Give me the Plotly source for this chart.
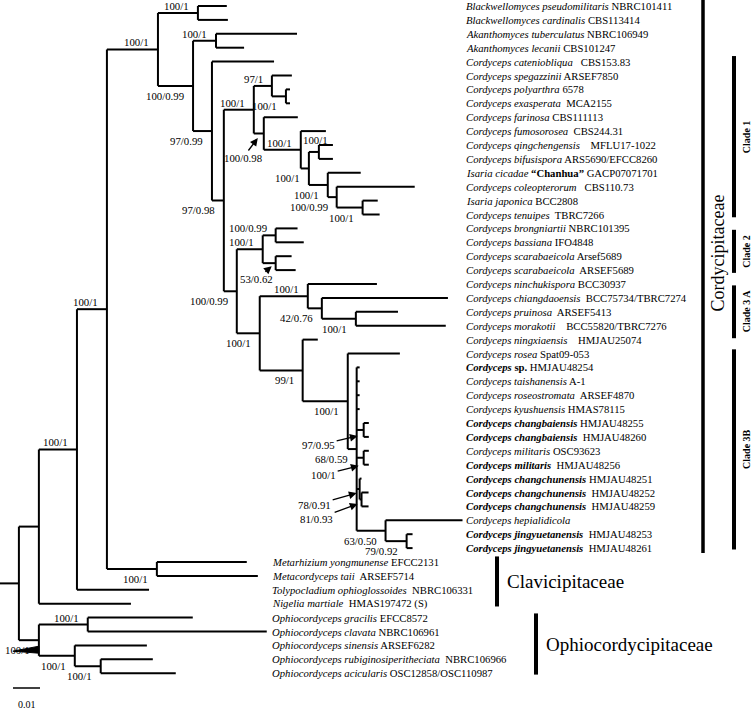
import plotly.graph_objects as go

# ---------------- layout constants ----------------
W, H = 756, 711
SCALE = 2700.0      # pixels per substitution unit (0.01 = 27 px)
ROW = 13.9          # pixels per tip row
TOP = 6.0           # pixel y of first tip
FONT = "Liberation Serif"

def px2x(p):
    return p / SCALE

def px2dy(p):
    return p / ROW

# ---------------- tips (top to bottom) ----------------
tip_species = [
    "Blackwellomyces pseudomilitaris", "Blackwellomyces cardinalis", "Akanthomyces tuberculatus",
    "Akanthomyces lecanii", "Cordyceps cateniobliqua", "Cordyceps spegazzinii", "Cordyceps polyarthra",
    "Cordyceps exasperata", "Cordyceps farinosa", "Cordyceps fumosorosea", "Cordyceps qingchengensis",
    "Cordyceps bifusispora", "Isaria cicadae", "Cordyceps coleopterorum", "Isaria japonica",
    "Cordyceps tenuipes", "Cordyceps brongniartii", "Cordyceps bassiana", "Cordyceps scarabaeicola",
    "Cordyceps scarabaeicola", "Cordyceps ninchukispora", "Cordyceps chiangdaoensis", "Cordyceps pruinosa",
    "Cordyceps morakotii", "Cordyceps ningxiaensis", "Cordyceps rosea", "Cordyceps sp.",
    "Cordyceps taishanensis", "Cordyceps roseostromata", "Cordyceps kyushuensis", "Cordyceps changbaiensis",
    "Cordyceps changbaiensis", "Cordyceps militaris", "Cordyceps militaris", "Cordyceps changchunensis",
    "Cordyceps changchunensis", "Cordyceps changchunensis", "Cordyceps hepialidicola",
    "Cordyceps jingyuetanensis", "Cordyceps jingyuetanensis", "Metarhizium yongmunense",
    "Metacordyceps taii", "Tolypocladium ophioglossoides", "Nigelia martiale", "Ophiocordyceps gracilis",
    "Ophiocordyceps clavata", "Ophiocordyceps sinensis", "Ophiocordyceps rubiginosiperitheciata",
    "Ophiocordyceps acicularis",
]
tip_strain = [
    "NBRC101411", "CBS113414", "NBRC106949", "CBS101247", "CBS153.83", "ARSEF7850", "6578", "MCA2155",
    "CBS111113", "CBS244.31", "MFLU17-1022", "ARS5690/EFCC8260", "GACP07071701", "CBS110.73", "BCC2808",
    "TBRC7266", "NBRC101395", "IFO4848", "Arsef5689", "ARSEF5689", "BCC30937", "BCC75734/TBRC7274",
    "ARSEF5413", "BCC55820/TBRC7276", "HMJAU25074", "Spat09-053", "HMJAU48254", "A-1", "ARSEF4870",
    "HMAS78115", "HMJAU48255", "HMJAU48260", "OSC93623", "HMJAU48256", "HMJAU48251", "HMJAU48252",
    "HMJAU48259", "", "HMJAU48253", "HMJAU48261", "EFCC2131", "ARSEF5714", "NBRC106331",
    "HMAS197472 (S)", "EFCC8572", "NBRC106961", "ARSEF6282", "NBRC106966", "OSC12858/OSC110987",
]
# number of spaces between name and strain, as typeset in the figure
tip_gap = [1, 1, 1, 1, 3, 1, 1, 2, 1, 2, 4, 1, 1, 3, 1, 2, 1, 1, 1, 2, 1, 2, 2, 4, 4, 1, 1, 1, 2, 1,
           1, 2, 1, 2, 1, 2, 2, 1, 2, 2, 1, 2, 2, 2, 1, 1, 1, 2, 1]
tip_note = {12: "\u201cChanhua\u201d"}
tip_bold = [26, 30, 31, 33, 34, 35, 36, 38, 39]
tip_parent = [
    "I", "I", "K", "K", "L", "O", "P", "P", "Q", "R", "T", "T", "U", "V", "W", "W", "Z", "Z", "AA", "AA",
    "AC", "AD", "AE", "AE", "AF", "AG", "AH", "AH", "AH", "AH", "CB", "CB", "MI", "MI", "CC", "CC2", "CC2",
    "AI", "AJ", "AJ", "AK", "AK", "C", "A", "E", "E", "F", "G", "G",
]
tip_length = [
    0.0107, 0.0111, 0.0300, 0.0104, 0.0230, 0.0074, 0.0015, 0.0015, 0.0126, 0.0093, 0.0052, 0.0052,
    0.0122, 0.0289, 0.0056, 0.0063, 0.0081, 0.0104, 0.0059, 0.0074, 0.0256, 0.0467, 0.0156, 0.0333,
    0.0056, 0.0193, 0.0011, 0.0011, 0.0011, 0.0011, 0.0019, 0.0019, 0.0019, 0.0019, 0.0007, 0.0026,
    0.0026, 0.0285, 0.0022, 0.0022, 0.0333, 0.0374, 0.0267, 0.0341, 0.0389, 0.0663, 0.0267, 0.0193,
    0.0278,
]
tip_label_col_px = [466] * 40 + [272] * 9

# ---------------- internal nodes ----------------
node_names = ["root", "A", "D", "C", "B", "H", "I", "J", "K", "L", "M", "N", "O", "P", "Q", "R", "S",
              "T", "U", "V", "W", "X", "Y", "Z", "AA", "AB", "AC", "AD", "AE", "AF", "AG", "AH", "CB",
              "MI", "CC", "CC2", "AI", "AJ", "AK", "E", "F", "G"]
node_parent = [None, "root", "root", "A", "C", "B", "H", "H", "J", "J", "L", "M", "N", "O", "N", "Q", "R",
               "S", "S", "U", "V", "M", "X", "Y", "Y", "X", "AB", "AC", "AD", "AB", "AF", "AG", "AH",
               "AH", "AH", "CC", "AH", "AI", "B", "D", "D", "F"]
node_length = [0.0070, 0.0074, 0.0074, 0.0141, 0.0111, 0.0189, 0.0148, 0.0130, 0.0085, 0.0070, 0.0044,
               0.0111, 0.0067, 0.0052, 0.0037, 0.0137, 0.0030, 0.0037, 0.0070, 0.0033, 0.0096, 0.0048,
               0.0096, 0.0048, 0.0048, 0.0085, 0.0178, 0.0052, 0.0126, 0.0159, 0.0167, 0.0033, 0.0026,
               0.0026, 0.0011, 0.0007, 0.0107, 0.0078, 0.0185, 0.0181, 0.0133, 0.0096]
node_support = ["", "", "100/1", "100/1", "100/1", "100/1", "100/1", "100/0.99", "100/1", "97/0.99",
                "97/0.98", "100/1", "97/1", "100/1", "100/0.98", "100/1", "100/1", "100/1", "100/1",
                "100/0.99", "100/1", "100/0.99", "100/1", "100/0.99", "53/0.62", "100/1", "100/1",
                "42/0.76", "100/1", "99/1", "100/1", "68/0.59", "97/0.95", "100/1", "78/0.91", "81/0.93",
                "63/0.50", "79/0.92", "100/1", "100/1", "100/1", "100/1"]
# placement: a = above branch, b = below branch, t = above node, r = arrow
node_label_pos = ["", "", "b", "a", "a", "a", "a", "b", "a", "b", "b", "a", "a", "b", "r", "a", "b", "t",
                  "b", "b", "b", "b", "a", "a", "r", "b", "a", "b", "b", "b", "b", "b", "r", "r", "r", "r",
                  "b", "b", "b", "a", "b", "b"]
# arrow geometry (pixels): tip offset from (parent x, node y), text offset from tip
arrow_tip = {"Q": (4, 4.5), "AA": (9, 3), "CB": (1, 6), "MI": (2, 8), "CC": (0, 4), "CC2": (-2, 4.5)}
arrow_text = {"Q": (-15, 20), "AA": (-15, 13), "CB": (-39, 9), "MI": (-35, 9), "CC": (-42, 12),
              "CC2": (-41, 15)}

# ---------------- clade bars (tip-index spans) ----------------
bar_names = ["Cordycipitaceae", "Clade 1", "Clade 2", "Clade 3 A", "Clade 3B", "Clavicipitaceae",
             "Ophiocordycipitaceae"]
bar_span = [(-0.45, 39.35), (3.6, 15.2), (16.1, 19.2), (20.1, 23.9), (24.7, 39.1), (39.6, 43.2),
            (43.7, 48.1)]
bar_x_px = [703, 734, 734, 734, 734, 497, 536]

# ---------------- compute tree geometry ----------------
xpos, ypos = {}, {}
for name, par, ln in zip(node_names, node_parent, node_length):
    xpos[name] = ln if par is None else xpos[par] + ln
children = {n: [] for n in node_names}
for i, (par, ln) in enumerate(zip(tip_parent, tip_length)):
    key = "tip%d" % i
    xpos[key] = xpos[par] + ln
    ypos[key] = float(i)
    children[par].append(key)
for name, par in zip(node_names, node_parent):
    if par is not None:
        children[par].append(name)
for name in reversed(node_names):
    ys = [ypos[c] for c in children[name]]
    ypos[name] = (min(ys) + max(ys)) / 2.0
parent_of = dict(zip(node_names, node_parent))
for i, p in enumerate(tip_parent):
    parent_of["tip%d" % i] = p

lx, ly = [], []
for key, par in parent_of.items():
    if par is None:
        lx += [0, xpos[key], None]
        ly += [ypos[key], ypos[key], None]
    else:
        lx += [xpos[par], xpos[key], None]
        ly += [ypos[key], ypos[key], None]
for name in node_names:
    ys = [ypos[c] for c in children[name]]
    lx += [xpos[name], xpos[name], None]
    ly += [min(ys), max(ys), None]

fig = go.Figure()
fig.add_trace(go.Scatter(x=lx, y=ly, mode="lines", line=dict(color="black", width=2),
                         hoverinfo="skip", showlegend=False))

# black wedge at the Ophiocordycipitaceae stem
dxn, dyn = xpos["D"], ypos["D"]
fig.add_trace(go.Scatter(
    x=[dxn, dxn, dxn - px2x(26), dxn],
    y=[dyn + px2dy(6), dyn + px2dy(13), dyn + px2dy(11), dyn + px2dy(6)],
    mode="lines", fill="toself", fillcolor="black", line=dict(color="black", width=1),
    hoverinfo="skip", showlegend=False))

ann = []

# tip labels
NB = "\u00a0"
for i, sp in enumerate(tip_species):
    words = sp.split()
    ital = " ".join(w for w in words if w != "sp.")
    txt = "<i>%s</i>" % ital + (" sp." if "sp." in words else "")
    if i in tip_bold:
        txt = "<b>%s</b>" % txt
    if i in tip_note:
        txt += " <b>%s</b>" % tip_note[i]
    if tip_strain[i]:
        txt += NB * (tip_gap[i] - 1) + " " + tip_strain[i]
    ann.append(dict(x=px2x(tip_label_col_px[i]), y=i, text=txt, xanchor="left", yanchor="middle",
                    showarrow=False, xshift=-2, font=dict(family=FONT, size=10.7, color="black")))

# support values
sfont = dict(family=FONT, size=10.8, color="black")
for name, sup, pos in zip(node_names, node_support, node_label_pos):
    if not sup:
        continue
    x, y = xpos[name], ypos[name]
    if pos == "a":
        ann.append(dict(x=x, y=y, text=sup, xanchor="right", yanchor="middle", showarrow=False,
                        xshift=-7, yshift=7, font=sfont))
    elif pos == "b":
        ann.append(dict(x=x, y=y, text=sup, xanchor="right", yanchor="middle", showarrow=False,
                        xshift=-7, yshift=-10, font=sfont))
    elif pos == "t":
        ann.append(dict(x=x, y=y, text=sup, xanchor="center", yanchor="middle", showarrow=False,
                        xshift=-3, yshift=12, font=sfont))
    else:
        px_ = xpos[parent_of[name]]
        tdx, tdy = arrow_tip[name]
        ldx, ldy = arrow_text[name]
        tx = px_ + px2x(tdx)
        ty = y + px2dy(tdy)
        ann.append(dict(x=tx, y=ty, ax=tx + px2x(ldx), ay=ty + px2dy(ldy), axref="x", ayref="y",
                        text=sup, showarrow=True, arrowhead=2, arrowsize=1.2, arrowwidth=1.3,
                        arrowcolor="black", standoff=0, font=sfont))

# clade bars and labels
shapes = []
for nm, (y0, y1), bx in zip(bar_names, bar_span, bar_x_px):
    shapes.append(dict(type="line", xref="x", yref="y", x0=px2x(bx), x1=px2x(bx), y0=y0, y1=y1,
                       line=dict(color="black", width=3.5 if nm in ("Cordycipitaceae",) else 4)))
    ymid = (y0 + y1) / 2
    if nm == "Cordycipitaceae":
        ann.append(dict(x=px2x(bx), y=17.8, text=nm, textangle=-90, showarrow=False, xanchor="left",
                        xshift=3, yanchor="middle", font=dict(family=FONT, size=18, color="black")))
    elif nm.startswith("Clade"):
        ann.append(dict(x=px2x(bx), y=ymid, text="<b>%s</b>" % nm, textangle=-90, showarrow=False,
                        xanchor="left", xshift=5, yanchor="middle",
                        font=dict(family=FONT, size=10, color="black")))
    else:
        ann.append(dict(x=px2x(bx), y=ymid, text=nm, showarrow=False, xanchor="left", xshift=8,
                        yanchor="middle", font=dict(family=FONT, size=19, color="black")))

# scale bar
scale_len = [0.01]
sb_x0 = px2x(13)
sb_y = px2dy(688 - TOP)
fig.add_trace(go.Scatter(x=[sb_x0, sb_x0 + scale_len[0]], y=[sb_y, sb_y], mode="lines",
                         line=dict(color="black", width=1.5), hoverinfo="skip", showlegend=False))
ann.append(dict(x=sb_x0 + scale_len[0] / 2, y=sb_y + px2dy(16), text="%.2f" % scale_len[0],
                showarrow=False, font=dict(family=FONT, size=10, color="black")))

fig.update_layout(
    width=W, height=H, margin=dict(l=0, r=0, t=0, b=0),
    paper_bgcolor="white", plot_bgcolor="white", showlegend=False,
    xaxis=dict(range=[0, px2x(W)], visible=False, fixedrange=True),
    yaxis=dict(range=[px2dy(H - TOP), px2dy(-TOP)], visible=False, fixedrange=True),
    annotations=ann, shapes=shapes,
)
fig.write_html("out.html", config={"displayModeBar": False},
               post_script="document.body.style.margin='0px';document.body.style.overflow='hidden';")
